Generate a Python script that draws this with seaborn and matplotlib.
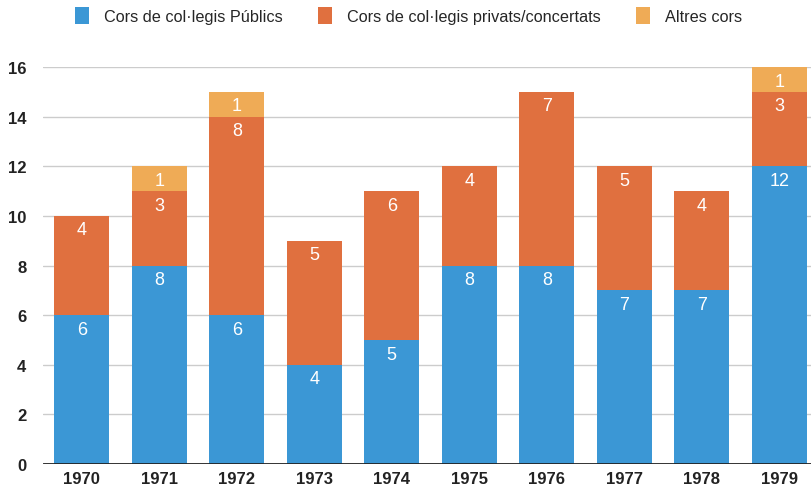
import matplotlib.pyplot as plt
import numpy as np
import pandas as pd
import seaborn as sns
from matplotlib.patches import Patch

# 数据
years = ['1970', '1971', '1972', '1973', '1974', '1975', '1976', '1977', '1978', '1979']
publics = [6, 8, 6, 4, 5, 8, 8, 7, 7, 12]
privats = [4, 3, 8, 5, 6, 4, 7, 5, 4, 3]
altres = [0, 1, 1, 0, 0, 0, 0, 0, 0, 1]
series_names = ['Cors de col·legis Públics', 'Cors de col·legis privats/concertats', 'Altres cors']
colors = ['#3B97D5', '#E0703F', '#EFAB56']

sns.set_theme(style='white')
plt.rcParams['font.family'] = ['Liberation Sans', 'DejaVu Sans']

df = pd.DataFrame({'year': years, 'pub': publics, 'priv': privats, 'alt': altres})
df['top1'] = df['pub']
df['top2'] = df['pub'] + df['priv']
df['top3'] = df['top2'] + df['alt']

fig = plt.figure(figsize=(8.12, 4.89), dpi=100)
ax = fig.add_axes([0.053, 0.049, 0.9545, 0.812])

# 从上往下叠加画
for col, color in zip(['top3', 'top2', 'top1'], colors[::-1]):
    sns.barplot(data=df, x='year', y=col, color=color, width=0.71,
                saturation=1, ax=ax, zorder=2, edgecolor='none')

# 数值标签
for i in range(len(years)):
    segs = [(publics[i], df['top1'][i]), (privats[i], df['top2'][i]), (altres[i], df['top3'][i])]
    for v, top in segs:
        if v > 0:
            ax.annotate(str(v), xy=(i, top), xytext=(0, -4), textcoords='offset points',
                        ha='center', va='top', color='white', fontsize=13, zorder=3)

ax.set_xlim(-0.5, 9.5)
ax.set_ylim(0, 16)
ax.set_yticks(range(0, 17, 2))
ax.set_xlabel('')
ax.set_ylabel('')
ax.grid(axis='y', color='#cccccc', linewidth=1, zorder=0)
ax.axhline(0, color='#222222', linewidth=2, zorder=4)
for s in ax.spines.values():
    s.set_visible(False)
ax.tick_params(axis='x', length=0, labelsize=12, pad=5)
ax.tick_params(axis='y', length=0, labelsize=12, pad=12)
for lab in ax.get_xticklabels() + ax.get_yticklabels():
    lab.set_fontweight('bold')
    lab.set_color('#222222')

handles = [Patch(facecolor=c, edgecolor='none') for c in colors]
fig.legend(handles, series_names, loc='upper center', bbox_to_anchor=(0.503, 1.014), ncol=3,
           frameon=False, fontsize=11.7, handlelength=0.85, handleheight=1.25,
           columnspacing=2.2, handletextpad=0.9)

fig.savefig('out.png', dpi=100)
